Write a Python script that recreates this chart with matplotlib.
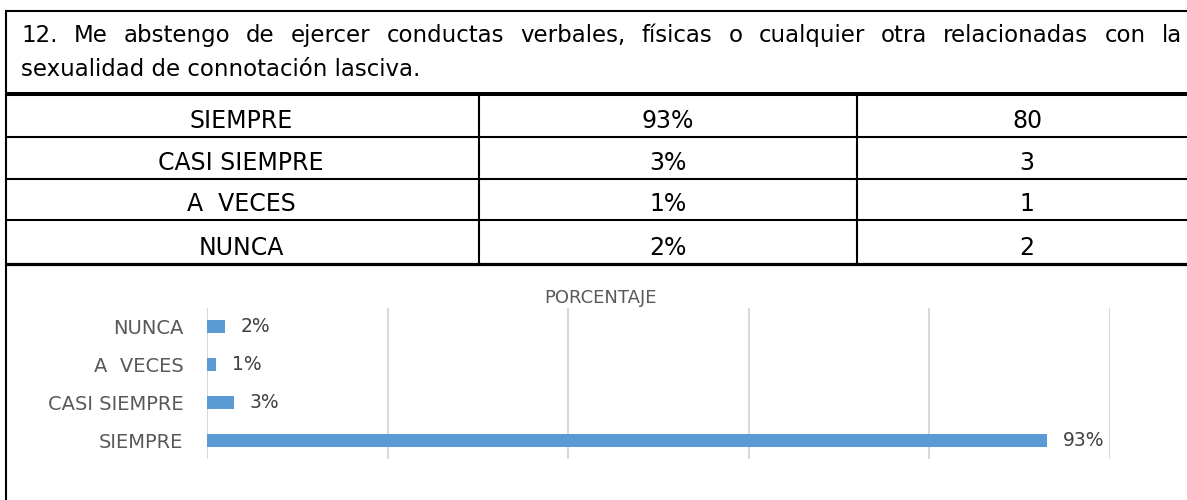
import matplotlib
matplotlib.use("Agg")
import matplotlib.pyplot as plt

W, H = 1187, 500

# data
title_lines = ["12. Me abstengo de ejercer conductas verbales, físicas o cualquier otra  relacionadas  con  la",
               "sexualidad de connotación lasciva."]
categories = ["SIEMPRE", "CASI SIEMPRE", "A  VECES", "NUNCA"]
percents = [93, 3, 1, 2]
percent_labels = ["93%", "3%", "1%", "2%"]
counts = [80, 3, 1, 2]
chart_title = "PORCENTAJE"

plt.rcParams['font.family'] = ['DejaVu Sans']

fig = plt.figure(figsize=(W / 100, H / 100), dpi=100)

# page layer in pixel coordinates for the document table
page = fig.add_axes([0, 0, 1, 1])
page.set_xlim(0, W)
page.set_ylim(H, 0)
page.axis('off')

# outer frame
page.plot([5, W], [10.5, 10.5], color='black', lw=1.5, solid_capstyle='butt')
page.plot([5.5, 5.5], [10, H], color='black', lw=1.5, solid_capstyle='butt')

# title, first line justified
renderer = fig.canvas.get_renderer()
words = title_lines[0].split()
objs = [page.text(0, 42, w, fontsize=16.5, va='baseline', ha='left') for w in words]
widths = [t.get_window_extent(renderer).width for t in objs]
gap = (1182 - 21 - sum(widths)) / (len(words) - 1)
x = 21
for t, w in zip(objs, widths):
    t.set_x(x)
    x += w + gap
page.text(21, 76, title_lines[1], fontsize=16.5, va='baseline', ha='left')

# table lines
row_edges = [94, 137, 179, 220, 264]
row_widths = [2.9, 1.5, 1.5, 1.5, 2.3]
for y, lw in zip(row_edges, row_widths):
    page.plot([5, W], [y, y], color='black', lw=lw, solid_capstyle='butt')
for xc in [479, 857]:
    page.plot([xc, xc], [94, 264], color='black', lw=1.5, solid_capstyle='butt')

col_centers = [241, 668, 1027]
for i, (cat, pl, c) in enumerate(zip(categories, percent_labels, counts)):
    yb = row_edges[i + 1] - 9
    page.text(col_centers[0], yb, cat, fontsize=17, ha='center', va='baseline')
    page.text(col_centers[1], yb, pl, fontsize=17, ha='center', va='baseline')
    page.text(col_centers[2], yb, str(c), fontsize=17, ha='center', va='baseline')

# chart
page.text(600, 298, chart_title, fontsize=13, color='#595959', ha='center', va='center')

ax = fig.add_axes([207 / W, 1 - 459 / H, (1110 - 207) / W, (459 - 308) / H])
ypos = list(range(len(categories)))
ax.barh(ypos, percents, height=0.35, color='#5B9BD5', zorder=3)
for y, p, lab in zip(ypos, percents, percent_labels):
    ax.annotate(lab, (p, y), xytext=(11.5, 0), textcoords='offset points',
                va='center', ha='left', fontsize=13.5, color='#404040')
ax.set_xlim(0, 100)
ax.set_ylim(-0.5, len(categories) - 0.5)
ax.set_xticks(range(0, 101, 20))
ax.set_yticks(ypos)
ax.set_yticklabels(categories, fontsize=14, color='#595959')
ax.tick_params(axis='both', length=0, labelbottom=False, pad=17)
ax.grid(axis='x', color='#D9D9D9', lw=1.5, zorder=0)
for s in ax.spines.values():
    s.set_visible(False)

fig.savefig("out.png", dpi=100)
